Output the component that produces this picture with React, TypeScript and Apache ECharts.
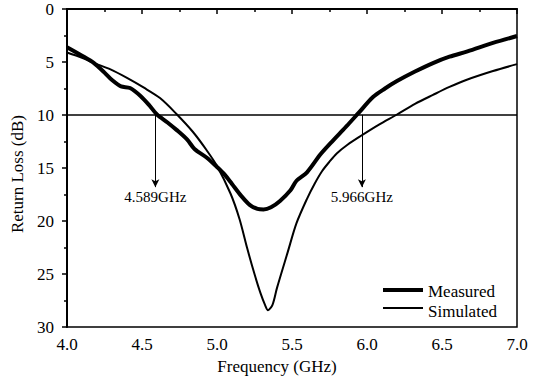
import React, { useEffect, useRef } from "react";
import * as echarts from "echarts";

const seriesNames = ["Measured", "Simulated"];

const measuredFreq = [4.0, 4.1, 4.18, 4.25, 4.3, 4.36, 4.42, 4.49, 4.55, 4.6, 4.67, 4.73, 4.8, 4.85, 4.93, 5.0, 5.05, 5.1, 5.16, 5.22, 5.27, 5.31, 5.36, 5.42, 5.49, 5.53, 5.6, 5.69, 5.76, 5.82, 5.88, 5.944, 6.04, 6.12, 6.2, 6.32, 6.44, 6.55, 6.67, 6.84, 7.0];
const measuredLoss = [3.6, 4.4, 5.1, 6.0, 6.7, 7.3, 7.45, 8.2, 9.1, 9.95, 10.7, 11.4, 12.3, 13.2, 14.0, 14.9, 15.6, 16.5, 17.6, 18.5, 18.85, 18.9, 18.7, 18.1, 17.1, 16.2, 15.4, 13.7, 12.6, 11.7, 10.8, 9.8, 8.3, 7.5, 6.8, 5.9, 5.1, 4.5, 4.0, 3.2, 2.55];

const simulatedFreq = [4.0, 4.1, 4.18, 4.29, 4.4, 4.51, 4.62, 4.73, 4.84, 4.93, 5.0, 5.09, 5.15, 5.2, 5.25, 5.29, 5.32, 5.34, 5.37, 5.4, 5.47, 5.53, 5.6, 5.65, 5.7, 5.75, 5.8, 5.87, 5.955, 6.08, 6.2, 6.32, 6.44, 6.55, 6.67, 6.84, 7.0];
const simulatedLoss = [4.1, 4.6, 5.1, 5.7, 6.5, 7.4, 8.4, 9.9, 11.6, 13.3, 14.8, 17.4, 19.8, 22.5, 25.0, 26.8, 27.9, 28.4, 27.9, 26.3, 23.0, 20.2, 17.9, 16.5, 15.3, 14.4, 13.6, 12.8, 12.0, 10.9, 9.95, 8.95, 8.1, 7.35, 6.65, 5.85, 5.2];

const thresholdLoss = 10;
const annotationFreqs = [4.589, 5.966];
const annotationLabels = ["4.589GHz", "5.966GHz"];
const arrowTipLoss = 16.8;
const annotationLabelLoss = 17.7;

const FONT = "Liberation Serif";

export default function App() {
  const ref = useRef<HTMLDivElement>(null);
  useEffect(() => {
    if (!ref.current) return;
    const chart = echarts.init(ref.current, undefined, { renderer: "svg" });
    const legendWidths = [4, 2];
    const legendY = [290, 308];
    const legendTextY = [291, 311];
    chart.setOption({
      animation: false,
      backgroundColor: "#ffffff",
      grid: {
        left: 67,
        right: 19,
        top: 9,
        bottom: 52,
        show: true,
        borderColor: "#000",
        borderWidth: 1.5,
      },
      graphic: seriesNames.flatMap((name, i) => [
        {
          type: "line",
          silent: true,
          shape: { x1: 383, y1: legendY[i], x2: 423, y2: legendY[i] },
          style: { stroke: "#000", lineWidth: legendWidths[i] },
          z: 10,
        },
        {
          type: "text",
          silent: true,
          x: 428,
          y: legendTextY[i],
          style: {
            text: name,
            fontFamily: FONT,
            fontSize: 17,
            lineHeight: 17,
            fill: "#000",
            verticalAlign: "middle",
            align: "left",
          },
          z: 10,
        },
      ]),
      xAxis: {
        type: "value",
        min: 4,
        max: 7,
        interval: 0.5,
        name: "Frequency (GHz)",
        nameLocation: "middle",
        nameGap: 28,
        nameTextStyle: { fontFamily: FONT, fontSize: 17, color: "#000", padding: [0, 30, 0, 0] },
        axisLine: { lineStyle: { color: "#000", width: 2 } },
        axisTick: { show: true, inside: false, length: 5, lineStyle: { color: "#000", width: 1.5 } },
        minorTick: { show: true, splitNumber: 2, length: 3, lineStyle: { color: "#000", width: 1.5 } },
        splitLine: { show: false },
        axisLabel: {
          fontFamily: FONT,
          fontSize: 17,
          color: "#000",
          margin: 9,
          formatter: (v: number) => v.toFixed(1),
        },
      },
      yAxis: {
        type: "value",
        inverse: true,
        min: 0,
        max: 30,
        interval: 5,
        name: "Return Loss (dB)",
        nameLocation: "middle",
        nameGap: 38,
        nameTextStyle: { fontFamily: FONT, fontSize: 17, color: "#000", padding: [0, 12, 0, 0] },
        axisLine: { lineStyle: { color: "#000", width: 2 } },
        axisTick: { show: true, inside: false, length: 5, lineStyle: { color: "#000", width: 1.5 } },
        minorTick: { show: true, splitNumber: 2, length: 3, lineStyle: { color: "#000", width: 1.5 } },
        splitLine: { show: false },
        axisLabel: { fontFamily: FONT, fontSize: 17, color: "#000", margin: 13 },
      },
      series: [
        {
          name: seriesNames[0],
          type: "line",
          data: measuredFreq.map((f, i) => [f, measuredLoss[i]]),
          showSymbol: false,
          symbol: "none",
          smooth: 0.3,
          lineStyle: { color: "#000", width: 4 },
          itemStyle: { color: "#000" },
          z: 3,
          markLine: {
            silent: true,
            symbol: "none",
            label: { show: false },
            lineStyle: { color: "#000", width: 1.5, type: "solid" },
            data: [{ yAxis: thresholdLoss }],
          },
        },
        {
          name: seriesNames[1],
          type: "line",
          data: simulatedFreq.map((f, i) => [f, simulatedLoss[i]]),
          showSymbol: false,
          symbol: "none",
          smooth: 0.3,
          lineStyle: { color: "#000", width: 2 },
          itemStyle: { color: "#000" },
          z: 2,
          markLine: {
            silent: true,
            symbol: ["none", "arrow"],
            symbolSize: [6, 8],
            label: { show: false },
            lineStyle: { color: "#000", width: 1, type: "solid" },
            data: annotationFreqs.map((f) => [
              { coord: [f, thresholdLoss] },
              { coord: [f, arrowTipLoss] },
            ]),
          },
          markPoint: {
            silent: true,
            symbol: "circle",
            symbolSize: 0,
            label: {
              show: true,
              position: "inside",
              fontFamily: FONT,
              fontSize: 15,
              color: "#000",
              formatter: (p: any) => p.name,
            },
            data: annotationFreqs.map((f, i) => ({
              name: annotationLabels[i],
              coord: [f, annotationLabelLoss],
            })),
          },
        },
      ],
    });
    return () => chart.dispose();
  }, []);
  return <div ref={ref} style={{ width: 536, height: 380, position: "absolute", left: 0, top: 0 }} />;
}
